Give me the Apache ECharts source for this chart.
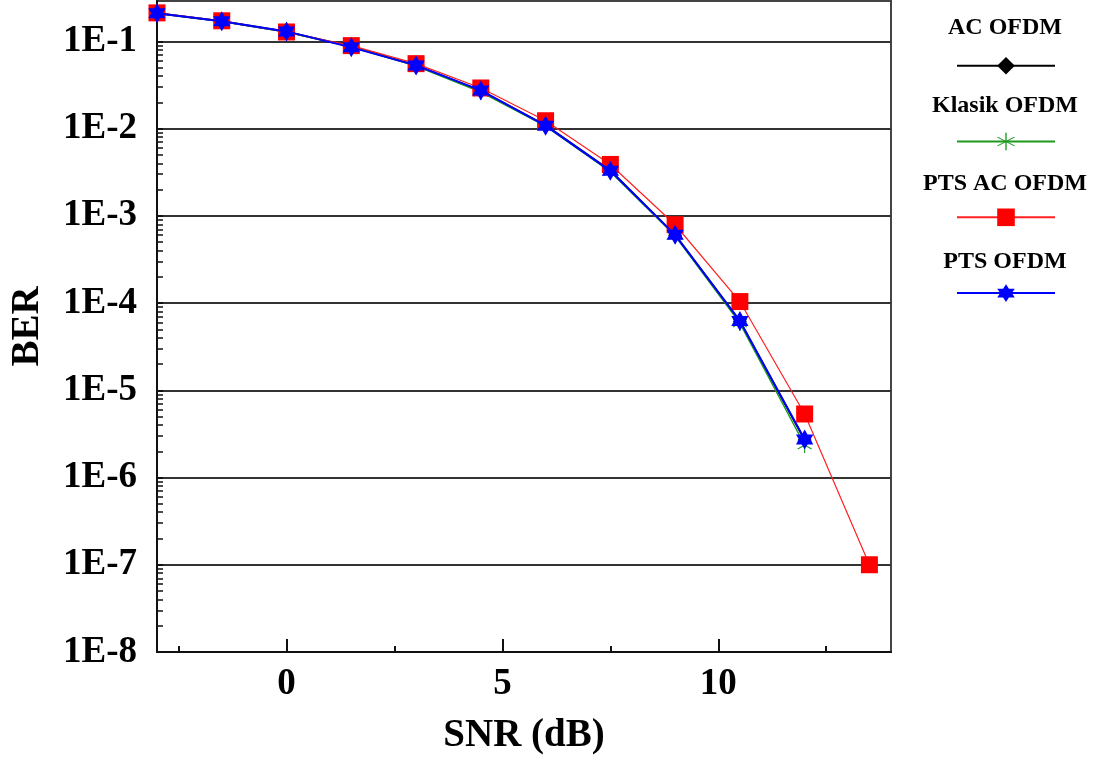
<!DOCTYPE html>
<html>
<head>
<meta charset="utf-8">
<script src="https://cdn.jsdelivr.net/npm/echarts@6/dist/echarts.min.js"></script>
<style>
html,body{margin:0;padding:0;background:#fff;}
#chart{width:1096px;height:764px;}
</style>
</head>
<body>
<div id="chart"></div>
<script>
// ---- data ----
const snr = [-3, -1.5, 0, 1.5, 3, 4.5, 6, 7.5, 9, 10.5, 12, 13.5];
const seriesNames = ['AC OFDM', 'Klasik OFDM', 'PTS AC OFDM', 'PTS OFDM'];
const berAC      = [0.21, 0.17, 0.129, 0.087, 0.053, 0.027, 0.0109, 0.0033, 6.0e-4, 6.2e-5, 2.7e-6];
const berKlasik  = [0.21, 0.17, 0.128, 0.087, 0.052, 0.0262, 0.0107, 0.0032, 5.9e-4, 5.9e-5, 2.36e-6];
const berPTSAC   = [0.212, 0.172, 0.128, 0.0893, 0.0555, 0.0292, 0.0123, 0.00388, 7.9e-4, 1.04e-4, 5.35e-6, 1.0e-7];
const berPTS     = [0.21, 0.17, 0.13, 0.0853, 0.053, 0.0274, 0.0108, 0.00328, 6.05e-4, 6.24e-5, 2.73e-6];
const xMajorTicks = [0, 5, 10];
const xMinorTicks = [-2.5, 2.5, 7.5, 12.5];
const yTicks = [1e-8, 1e-7, 1e-6, 1e-5, 1e-4, 1e-3, 1e-2, 1e-1];
const yTickLabels = ['1E-8', '1E-7', '1E-6', '1E-5', '1E-4', '1E-3', '1E-2', '1E-1'];
const yMinorMultipliers = [2, 3, 4, 5, 6, 7, 8, 9];

// ---- helpers ----
function pairs(ys) { return ys.map((v, i) => [snr[i], v]); }
const yMinorTicks = [];
yTicks.forEach(t => yMinorMultipliers.forEach(m => yMinorTicks.push(+(t * m).toPrecision(3))));

const FONT = '"Liberation Serif", "Times New Roman", serif';
const hexStar = 'path://M0,-10 L2.89,-5 L8.66,-5 L5.77,0 L8.66,5 L2.89,5 L0,10 L-2.89,5 L-8.66,5 L-5.77,0 L-8.66,-5 L-2.89,-5 Z';
const asterisk = 'path://M-0.7,-10 L0.7,-10 L0.7,10 L-0.7,10 Z M-8.96,-4.48 L8.36,5.52 L8.96,4.48 L-8.36,-5.48 Z M-8.36,5.52 L8.96,-4.48 L8.36,-5.52 L-8.96,4.48 Z';

const chart = echarts.init(document.getElementById('chart'), null, {renderer: 'canvas'});

const legendTextY = [28, 106, 184, 262];

const option = {
  animation: false,
  backgroundColor: '#fff',
  grid: {left: 155, right: 205, top: 1, bottom: 112, show: true, borderColor: '#444', borderWidth: 2, containLabel: false},
  legend: {
    orient: 'vertical',
    left: 956, top: 54.7,
    padding: 0,
    itemWidth: 98, itemHeight: 22, itemGap: 56,
    formatter: () => '',
    textStyle: {fontSize: 1},
    data: seriesNames
  },
  graphic: seriesNames.map((n, i) => ({
    type: 'text', x: 1005, y: legendTextY[i], silent: true,
    style: {text: n, align: 'center', verticalAlign: 'middle', fill: '#000',
            font: 'bold 24px ' + FONT}
  })),
  xAxis: [{
    type: 'value', min: -3, max: 14,
    name: 'SNR (dB)', nameLocation: 'middle', nameGap: 64,
    nameTextStyle: {fontFamily: FONT, fontWeight: 'bold', fontSize: 39, color: '#000'},
    axisLine: {show: true, onZero: false, lineStyle: {color: '#111', width: 2}},
    axisTick: {show: true, inside: true, length: 13, customValues: xMajorTicks, lineStyle: {color: '#111', width: 2}},
    axisLabel: {customValues: xMajorTicks, margin: 14, fontFamily: FONT, fontWeight: 'bold', fontSize: 37, color: '#000'},
    splitLine: {show: false}
  }, {
    type: 'value', min: -3, max: 14, position: 'bottom',
    axisLine: {show: false, onZero: false},
    axisTick: {show: true, inside: true, length: 6, customValues: xMinorTicks, lineStyle: {color: '#111', width: 2}},
    axisLabel: {show: false},
    splitLine: {show: false}
  }],
  yAxis: [{
    type: 'log', logBase: 10, min: 1e-8, max: 0.29, interval: 1, position: 'left',
    name: 'BER', nameLocation: 'middle', nameGap: 110, nameRotate: 90,
    nameTextStyle: {fontFamily: FONT, fontWeight: 'bold', fontSize: 39, color: '#000'},
    axisLine: {show: true, onZero: false, lineStyle: {color: '#111', width: 2}},
    axisTick: {show: true, inside: true, length: 6, customValues: yTicks, lineStyle: {color: '#111', width: 2}},
    axisLabel: {
      customValues: yTicks, margin: 20,
      fontFamily: FONT, fontWeight: 'bold', fontSize: 37, color: '#000',
      formatter: v => {
        let best = -1, bd = Infinity;
        yTicks.forEach((t, i) => { const d = Math.abs(Math.log10(v) - Math.log10(t)); if (d < bd) { bd = d; best = i; } });
        return bd < 1e-6 ? yTickLabels[best] : '';
      }
    },
    splitLine: {show: true, lineStyle: {color: '#333', width: 2}}
  }, {
    type: 'log', logBase: 10, min: 1e-8, max: 0.29, interval: 1, position: 'left', offset: 0,
    axisLine: {show: false, onZero: false},
    axisTick: {show: true, inside: true, length: 6, customValues: yMinorTicks, lineStyle: {color: '#111', width: 1.5}},
    axisLabel: {show: false},
    splitLine: {show: false}
  }],
  series: [
    {name: seriesNames[0], type: 'line', data: pairs(berAC), symbol: 'diamond', symbolSize: 14,
     itemStyle: {color: '#000'}, lineStyle: {color: '#000', width: 2}, z: 2},
    {name: seriesNames[1], type: 'line', data: pairs(berKlasik), symbol: asterisk, symbolSize: 16, symbolKeepAspect: true,
     itemStyle: {color: '#1f9a1f'}, lineStyle: {color: '#1f9a1f', width: 1.5}, z: 3},
    {name: seriesNames[2], type: 'line', data: pairs(berPTSAC), symbol: 'rect', symbolSize: 17,
     itemStyle: {color: '#ff0000'}, lineStyle: {color: '#ff2020', width: 1.2}, z: 4},
    {name: seriesNames[3], type: 'line', data: pairs(berPTS), symbol: hexStar, symbolSize: 20, symbolKeepAspect: true,
     itemStyle: {color: '#0000ff'}, lineStyle: {color: '#0000ff', width: 2}, z: 5}
  ]
};
chart.setOption(option);
</script>
</body>
</html>
